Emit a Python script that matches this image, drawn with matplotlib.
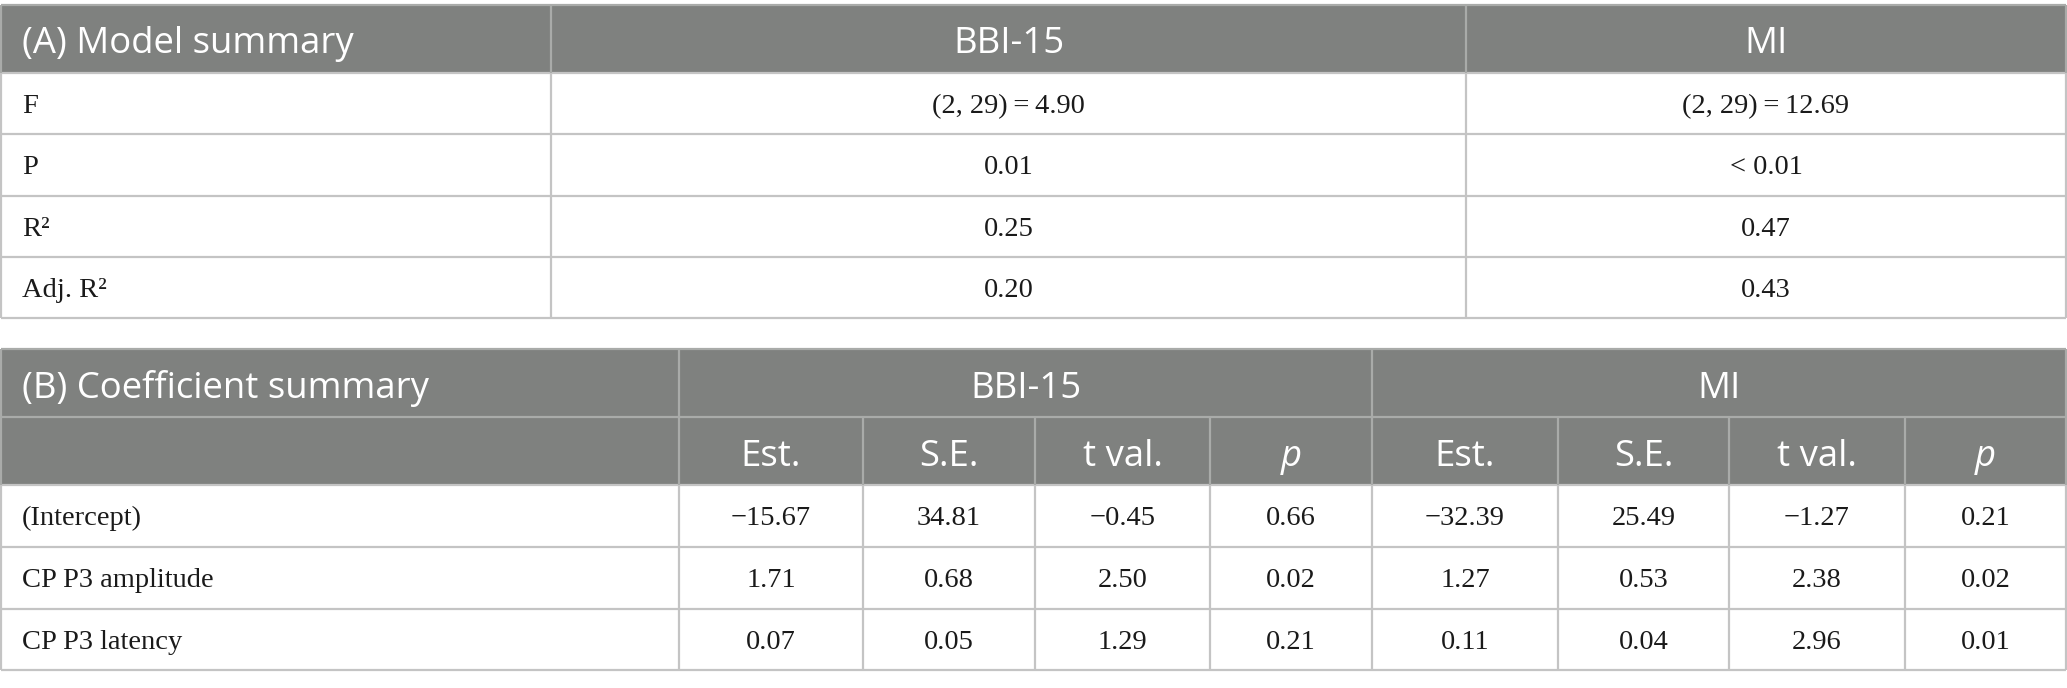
import matplotlib
matplotlib.use("Agg")
import matplotlib.pyplot as plt
from matplotlib.patches import Rectangle

# ---------------- data ----------------
a_title = "(A) Model summary"
a_cols = ["BBI-15", "MI"]
a_rows = ["F", "P", "R\u00b2", "Adj. R\u00b2"]
a_bbi = ["(2, 29)\u2009=\u20094.90", "0.01", "0.25", "0.20"]
a_mi = ["(2, 29)\u2009=\u200912.69", "< 0.01", "0.47", "0.43"]

b_title = "(B) Coefficient summary"
b_groups = ["BBI-15", "MI"]
b_sub = ["Est.", "S.E.", "t val.", "p"]
b_rows = ["(Intercept)", "CP P3 amplitude", "CP P3 latency"]
b_bbi_est = ["\u221215.67", "1.71", "0.07"]
b_bbi_se = ["34.81", "0.68", "0.05"]
b_bbi_t = ["\u22120.45", "2.50", "1.29"]
b_bbi_p = ["0.66", "0.02", "0.21"]
b_mi_est = ["\u221232.39", "1.27", "0.11"]
b_mi_se = ["25.49", "0.53", "0.04"]
b_mi_t = ["\u22121.27", "2.38", "2.96"]
b_mi_p = ["0.21", "0.02", "0.01"]

# ---------------- layout ----------------
W, H = 2067, 688
HEAD = "#7f817f"
LINE_H = "#a9aba9"
LINE = "#c4c4c4"
TXT = "#1a1a1a"
SANS = ["Open Sans", "DejaVu Sans"]
SERIF = ["Liberation Serif", "DejaVu Serif"]
HFS = 26.3
BFS = 20.5
PAD = 21
# baseline offsets from the row centre (pixels)
HOFF = HFS * 100 / 72 * 0.714 / 2 + 1.5
BOFF = BFS * 100 / 72 * 0.662 / 2

fig = plt.figure(figsize=(W / 100, H / 100), dpi=100)
ax = fig.add_axes([0, 0, 1, 1])
ax.set_xlim(0, W)
ax.set_ylim(H, 0)
ax.axis("off")


def hline(y, x0, x1, c):
    ax.plot([x0, x1], [y, y], color=c, lw=1.6, solid_capstyle="butt", zorder=3)


def vline(x, y0, y1, c):
    ax.plot([x, x], [y0, y1], color=c, lw=1.6, solid_capstyle="butt", zorder=3)


def htext(x, yc, s, ha, italic=False):
    ax.text(x, yc + HOFF, s, color="white", fontsize=HFS, family=SANS,
            style="italic" if italic else "normal",
            va="baseline", ha=ha, zorder=4)


def btext(x, yc, s, ha):
    ax.text(x, yc + BOFF, s, color=TXT, fontsize=BFS, family=SERIF,
            va="baseline", ha=ha, zorder=4)


# ---- Table A ----
ax_x = [1, 551, 1466, W - 1]
ay = [5, 72.5, 134, 196, 257, 318]
ax.add_patch(Rectangle((ax_x[0], ay[0]), ax_x[-1] - ax_x[0], ay[1] - ay[0],
                       facecolor=HEAD, edgecolor="none", zorder=1))
hline(ay[0], ax_x[0], ax_x[-1], LINE_H)
for y in ay[1:]:
    hline(y, ax_x[0], ax_x[-1], LINE)
for x in ax_x:
    vline(x, ay[1], ay[-1], LINE)
for x in ax_x:
    vline(x, ay[0], ay[1], LINE_H)

yc = (ay[0] + ay[1]) / 2
htext(ax_x[0] + PAD, yc, a_title, "left")
for i, c in enumerate(a_cols):
    htext((ax_x[i + 1] + ax_x[i + 2]) / 2, yc, c, "center")
for r in range(len(a_rows)):
    yc = (ay[r + 1] + ay[r + 2]) / 2
    btext(ax_x[0] + PAD, yc, a_rows[r], "left")
    for j, col in enumerate([a_bbi, a_mi]):
        btext((ax_x[j + 1] + ax_x[j + 2]) / 2, yc, col[r], "center")

# ---- Table B ----
bx = [1, 679, 863, 1035, 1210, 1372, 1558, 1729, 1905, W - 1]
by = [349, 417, 485, 547, 609, 670]
ax.add_patch(Rectangle((bx[0], by[0]), bx[-1] - bx[0], by[2] - by[0],
                       facecolor=HEAD, edgecolor="none", zorder=1))
hline(by[0], bx[0], bx[-1], LINE_H)
hline(by[1], bx[0], bx[-1], LINE_H)
for y in by[2:]:
    hline(y, bx[0], bx[-1], LINE)
for x in [bx[0], bx[1], bx[5], bx[-1]]:
    vline(x, by[0], by[1], LINE_H)
for x in bx:
    vline(x, by[1], by[2], LINE_H)
for x in bx:
    vline(x, by[2], by[-1], LINE)

yc1 = (by[0] + by[1]) / 2
yc2 = (by[1] + by[2]) / 2
htext(bx[0] + PAD, yc1, b_title, "left")
for g, name in enumerate(b_groups):
    x0, x1 = bx[1 + 4 * g], bx[5 + 4 * g]
    htext((x0 + x1) / 2, yc1, name, "center")
    for k, s in enumerate(b_sub):
        xc = (bx[1 + 4 * g + k] + bx[2 + 4 * g + k]) / 2
        htext(xc, yc2, s, "center", italic=(s == "p"))

b_cols = [b_bbi_est, b_bbi_se, b_bbi_t, b_bbi_p, b_mi_est, b_mi_se, b_mi_t, b_mi_p]
for r in range(len(b_rows)):
    yc = (by[r + 2] + by[r + 3]) / 2
    btext(bx[0] + PAD, yc, b_rows[r], "left")
    for j, col in enumerate(b_cols):
        btext((bx[j + 1] + bx[j + 2]) / 2, yc, col[r], "center")

fig.savefig("out.png", dpi=100, facecolor="white")
